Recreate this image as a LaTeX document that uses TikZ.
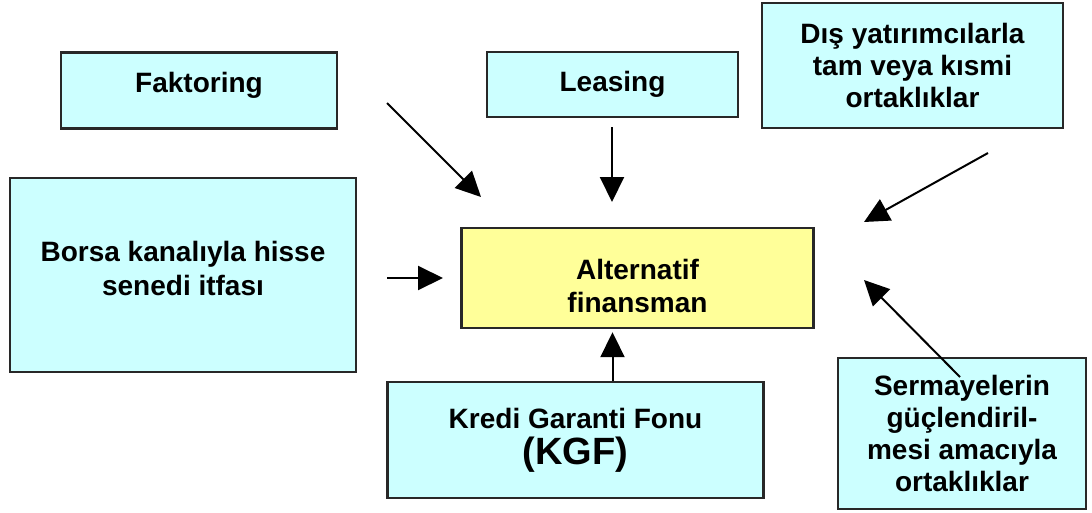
\documentclass[tikz,border=0pt]{standalone}
\usepackage{fontspec}
\setmainfont{Liberation Sans}
\usepackage{tikz}
\usetikzlibrary{arrows.meta}

\definecolor{boxcyan}{RGB}{204,255,255}
\definecolor{boxyellow}{RGB}{255,255,153}
\definecolor{boxline}{RGB}{40,40,40}

\begin{document}
\begin{tikzpicture}[
x=1pt, y=-1pt,
box/.style={draw=boxline, line width=2.4pt, fill=boxcyan, align=center, inner sep=0pt,
  font=\fontsize{28}{32}\selectfont\bfseries},
mainbox/.style={box, fill=boxyellow},
arrow/.style={-{Triangle[length=25pt,width=24pt]}, line width=2pt, draw=black} ]

\useasboundingbox (0,0) rectangle (1092,512);

\node[box, minimum width=276pt, minimum height=76pt] (fak) at (199,90.5) {Faktoring\rule[-17pt]{0pt}{17pt}};

\node[box, minimum width=251pt, minimum height=65pt] (lea) at (612.5,84.5) {Leasing};

\node[box, minimum width=301pt, minimum height=125pt] (dis) at (912.5,65.5) {Dış yatırımcılarla\\tam veya kısmi\\ortaklıklar};

\node[box, minimum width=346pt, minimum height=194pt] (bor) at (183,275) {Borsa kanalıyla hisse\\[2pt]senedi itfası\rule[-14pt]{0pt}{14pt}};

\node[mainbox, minimum width=352pt, minimum height=100pt] (alt) at (637.5,278) {\rule{0pt}{37pt}Alternatif\\[1pt]finansman};

\node[box, minimum width=376pt, minimum height=116pt] (kgf) at (575.5,440) {Kredi Garanti Fonu\\[4pt]{\fontsize{38}{40}\selectfont(KGF)}};

\node[box, minimum width=248pt, minimum height=151pt] (ser) at (962,433.5) {Sermayelerin\\güçlendiril-\\mesi amacıyla\\ortaklıklar};

% free ends of the arrows
\coordinate (fak-s) at (387,103);
\coordinate (fak-e) at (481,197);
\coordinate (lea-s) at (612,127);
\coordinate (lea-e) at (612,202);
\coordinate (dis-s) at (988,153);
\coordinate (dis-e) at (864,222);
\coordinate (bor-s) at (387,278);
\coordinate (bor-e) at (443,278);
\coordinate (ser-s) at (960,377);
\coordinate (ser-e) at (864,280);

\draw[arrow] (fak-s) -- (fak-e);

\draw[arrow] (lea-s) -- (lea-e);

\draw[arrow] (dis-s) -- (dis-e);

\draw[arrow] (bor-s) -- (bor-e);

\draw[arrow, shorten >=3pt] (kgf.north -| lea) -- (alt.south -| lea);

\draw[arrow] (ser-s) -- (ser-e);

\end{tikzpicture}
\end{document}
